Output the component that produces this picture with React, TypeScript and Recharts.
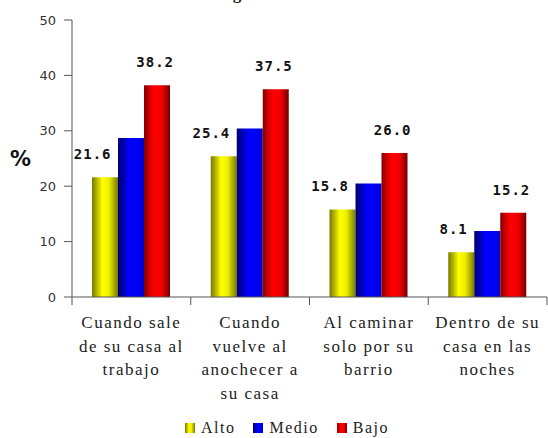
import React from "react";
import { BarChart, Bar, XAxis, YAxis, LabelList, Legend } from "recharts";

// categories (line breaks as in the original axis)
const categories = [
  "Cuando sale\nde su casa al\ntrabajo",
  "Cuando\nvuelve al\nanochecer a\nsu casa",
  "Al caminar\nsolo por su\nbarrio",
  "Dentro de su\ncasa en las\nnoches",
];
const alto = [21.6, 25.4, 15.8, 8.1];
const medio = [28.7, 30.4, 20.5, 11.9];
const bajo = [38.2, 37.5, 26.0, 15.2];
const yTicks = [0, 10, 20, 30, 40, 50];
const seriesNames = ["Alto", "Medio", "Bajo"];
const title = "Situaciones según nivel socioeconómico";

const data = categories.map((cat, i) => ({
  cat,
  alto: alto[i],
  medio: medio[i],
  bajo: bajo[i],
}));

const W = 548;
const H = 438;
const PLOT_LEFT = 72;
const PLOT_RIGHT = 1;
const BAND = (W - PLOT_LEFT - PLOT_RIGHT) / categories.length;
const AXIS_COLOR = "#555";

const swatches = ["url(#gAlto)", "url(#gMedio)", "url(#gBajo)"];

function XTick(props: any) {
  const { x, y, payload, index } = props;
  const lines = String(payload.value).split("\n");
  const left = x - BAND / 2;
  return (
    <g>
      <line x1={left} x2={left} y1={y - 8} y2={y} stroke={AXIS_COLOR} />
      {index === categories.length - 1 && (
        <line x1={left + BAND} x2={left + BAND} y1={y - 8} y2={y} stroke={AXIS_COLOR} />
      )}
      <text
        x={x}
        y={y + 23}
        textAnchor="middle"
        fontFamily="Liberation Serif"
        fontSize={17}
        letterSpacing={1.5}
        fill="#222"
      >
        {lines.map((l, i) => (
          <tspan key={i} x={x} dy={i === 0 ? 0 : 23.5}>
            {l}
          </tspan>
        ))}
      </text>
    </g>
  );
}

const valueLabel = (shift: number) => (props: any) => {
  const { x, y, value } = props;
  return (
    <text
      x={x + shift}
      y={y - 18}
      textAnchor="end"
      fontFamily="DejaVu Sans Mono"
      fontWeight="bold"
      fontSize={14}
      letterSpacing={1}
      fill="#111"
    >
      {Number(value).toFixed(1)}
    </text>
  );
};

function LegendBox() {
  return (
    <div
      style={{
        display: "flex",
        justifyContent: "center",
        alignItems: "center",
        gap: 18,
        fontFamily: "Liberation Serif",
        fontSize: 16,
        lineHeight: "17px",
        letterSpacing: 1.5,
        color: "#222",
        marginLeft: 27,
        paddingTop: 5,
      }}
    >
      {seriesNames.map((n, i) => (
        <span key={n} style={{ display: "flex", alignItems: "center", gap: 6 }}>
          <svg width={10} height={10}>
            <rect width={10} height={10} fill={swatches[i]} />
          </svg>
          {n}
        </span>
      ))}
    </div>
  );
}

export default function App() {
  return (
    <div style={{ position: "absolute", left: 0, top: 0, width: W, height: H, background: "#fff", overflow: "hidden" }}>
      <div
        style={{
          position: "absolute",
          top: -16,
          left: 0,
          width: W,
          textAlign: "center",
          fontFamily: "Liberation Serif",
          fontWeight: "bold",
          fontSize: 17,
          color: "#222",
        }}
      >
        {title}
      </div>
      <BarChart
        width={W}
        height={H}
        data={data}
        margin={{ top: 20, right: PLOT_RIGHT, left: 0, bottom: 0 }}
        barCategoryGap={20}
        barGap={0}
      >
        <defs>
          <linearGradient id="gAlto" x1="0" x2="1" y1="0" y2="0">
            <stop offset="0" stopColor="#7a7a00" />
            <stop offset="0.15" stopColor="#a8a800" />
            <stop offset="0.4" stopColor="#ffff00" />
            <stop offset="0.65" stopColor="#eeee00" />
            <stop offset="1" stopColor="#7a7a00" />
          </linearGradient>
          <linearGradient id="gMedio" x1="0" x2="1" y1="0" y2="0">
            <stop offset="0" stopColor="#000070" />
            <stop offset="0.2" stopColor="#0000b0" />
            <stop offset="0.45" stopColor="#0000ff" />
            <stop offset="0.8" stopColor="#0000f0" />
            <stop offset="1" stopColor="#0000c0" />
          </linearGradient>
          <linearGradient id="gBajo" x1="0" x2="1" y1="0" y2="0">
            <stop offset="0" stopColor="#800000" />
            <stop offset="0.2" stopColor="#d00000" />
            <stop offset="0.4" stopColor="#ff0000" />
            <stop offset="0.7" stopColor="#f00000" />
            <stop offset="1" stopColor="#700000" />
          </linearGradient>
        </defs>
        <XAxis
          dataKey="cat"
          height={117}
          interval={0}
          tick={<XTick />}
          tickLine={false}
          tickSize={8}
          tickMargin={0}
          axisLine={{ stroke: AXIS_COLOR }}
        />
        <YAxis
          width={PLOT_LEFT}
          domain={[0, 50]}
          ticks={yTicks}
          tickSize={8}
          tickMargin={8}
          tick={{ fontSize: 13, fill: "#333", fontFamily: "DejaVu Sans" }}
          axisLine={{ stroke: AXIS_COLOR }}
          tickLine={{ stroke: AXIS_COLOR }}
          label={{
            value: "%",
            position: "insideLeft",
            offset: 10,
            fontSize: 21,
            fontWeight: "bold",
            fill: "#111",
            fontFamily: "DejaVu Sans",
          }}
        />
        <Legend verticalAlign="bottom" height={24} content={() => <LegendBox />} />
        <Bar dataKey="alto" name="Alto" fill="url(#gAlto)" isAnimationActive={false}>
          <LabelList dataKey="alto" content={valueLabel(19.5)} />
        </Bar>
        <Bar dataKey="medio" name="Medio" fill="url(#gMedio)" isAnimationActive={false} />
        <Bar dataKey="bajo" name="Bajo" fill="url(#gBajo)" isAnimationActive={false}>
          <LabelList dataKey="bajo" content={valueLabel(30)} />
        </Bar>
      </BarChart>
    </div>
  );
}
